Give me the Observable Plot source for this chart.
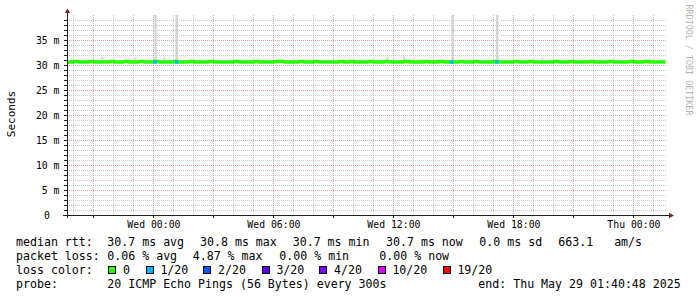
<!DOCTYPE html>
<html><head><meta charset="utf-8">
<script src="https://cdn.jsdelivr.net/npm/d3@7"></script>
<script src="https://cdn.jsdelivr.net/npm/@observablehq/plot@0.6"></script>
<style>
html,body{margin:0;padding:0;background:#fff;}
#wrap{position:relative;width:697px;height:297px;overflow:hidden;background:#fff;}
#chart{position:absolute;left:0;top:0;}
.lg{position:absolute;font-family:"DejaVu Sans Mono",monospace;font-size:11.6px;line-height:14px;white-space:pre;color:#000;}
.box{position:absolute;width:6px;height:6px;border:1px solid #000;}
</style></head>
<body><div id="wrap"><div id="chart"></div></div>
<script>
// ---------- data ----------
const xStart = new Date("2025-05-27T19:40:48Z");
const xEnd = new Date("2025-05-29T01:40:48Z");
const medianEnd = new Date("2025-05-29T01:35:00Z");

// median rtt (ms), one value per 15 minutes starting Tue 19:45
const medianMs = [
  30.7,30.8,30.7,30.7,30.8,30.7,30.7,30.7,30.8,30.7,30.7,30.8,
  30.7,30.7,30.8,30.7,30.7,30.8,30.7,30.7,30.7,30.8,30.7,30.7,
  30.8,30.7,30.7,30.7,30.8,30.7,30.7,30.7,30.7,30.8,30.7,30.7,
  30.7,30.8,30.7,30.7,30.7,30.8,30.8,30.7,30.7,30.7,30.8,30.7,
  30.7,30.8,30.7,30.7,30.7,30.7,30.8,30.7,30.8,30.7,30.7,30.7,
  30.8,30.7,30.7,30.8,30.7,30.7,30.7,30.8,30.7,30.7,30.7,30.8,
  30.7,30.7,30.8,30.7,30.7,30.7,30.8,30.7,30.7,30.8,30.7,30.7,
  30.7,30.8,30.7,30.7,30.7,30.8,30.7,30.7,30.8,30.7,30.7,30.7,
  30.7,30.8,30.7,30.7,30.8,30.7,30.7,30.7,30.8,30.7,30.7,30.7,
  30.8,30.7,30.7,30.7,30.8,30.7,30.7,30.8,30.7,30.7,30.7,30.7
];

// intervals with packet loss (1/20)
const lossStart = ["2025-05-28T00:00Z","2025-05-28T01:05Z","2025-05-28T14:50Z","2025-05-28T17:05Z"];
const lossEnd   = ["2025-05-28T00:10Z","2025-05-28T01:15Z","2025-05-28T15:00Z","2025-05-28T17:15Z"];
const lossMedianMs = [30.7, 30.7, 30.7, 30.7];
const lossLevel = [1, 1, 1, 1]; // index into lossColors

// smoke (ping spread) spikes
const smokeStart = ["2025-05-27T21:24Z","2025-05-27T23:03Z","2025-05-28T00:03Z","2025-05-28T00:30Z","2025-05-28T01:06Z","2025-05-28T11:39Z","2025-05-28T12:29Z","2025-05-28T14:54Z","2025-05-28T17:08Z","2025-05-28T19:24Z"];
const smokeEnd   = ["2025-05-27T21:30Z","2025-05-27T23:09Z","2025-05-28T00:10Z","2025-05-28T00:36Z","2025-05-28T01:14Z","2025-05-28T11:45Z","2025-05-28T12:35Z","2025-05-28T15:00Z","2025-05-28T17:15Z","2025-05-28T19:30Z"];
const smokeLoMs  = [30.6, 30.6, 30.6, 30.6, 30.6, 30.6, 30.6, 30.6, 30.6, 30.6];
const smokeHiMs  = [31.6, 31.4, 48.0, 31.6, 46.0, 31.7, 31.7, 47.0, 45.0, 31.5];

// loss colour legend
const lossLabels = ["0","1/20","2/20","3/20","4/20","10/20","19/20"];
const lossColors = ["#26ff00","#00b8ff","#0059ff","#5e00ff","#7e00ff","#dd00ff","#ff0000"];

// axis tick labels
const xLabelTimes = ["2025-05-28T00:00Z","2025-05-28T06:00Z","2025-05-28T12:00Z","2025-05-28T18:00Z","2025-05-29T00:00Z"];
const xLabelTexts = ["Wed 00:00","Wed 06:00","Wed 12:00","Wed 18:00","Thu 00:00"];
const yLabelMs = [5,10,15,20,25,30,35];
const yLabelTexts = ["5 m","10 m","15 m","20 m","25 m","30 m","35 m"];

// legend texts
const rttLabel = "median rtt:";
const rttStats = ["30.7 ms avg","30.8 ms max","30.7 ms min","30.7 ms now","0.0 ms sd","663.1   am/s"];
const lossLabel = "packet loss:";
const lossStats = ["0.06 % avg","4.87 % max","0.00 % min","0.00 % now"];
const colorLabel = "loss color:";
const probeLabel = "probe:";
const probeText = "20 ICMP Echo Pings (56 Bytes) every 300s";
const endText = "end: Thu May 29 01:40:48 2025";
const yTitle = "Seconds";
const watermark = "RRDTOOL / TOBI OETIKER";

// ---------- build tables ----------
const slotTimes = d3.utcMinute.every(15).range(new Date("2025-05-27T19:45:00Z"), new Date("2025-05-29T01:45:00Z"));
const medianPts = [{t: xStart, v: medianMs[0] / 1000}]
  .concat(medianMs.map((v, i) => ({t: slotTimes[i], v: v / 1000})))
  .concat([{t: medianEnd, v: medianMs[medianMs.length - 1] / 1000}]);
const loss = lossStart.map((s, i) => ({s: new Date(s), e: new Date(lossEnd[i]), v: lossMedianMs[i] / 1000, c: lossColors[lossLevel[i]]}));
const smoke = smokeStart.map((s, i) => ({s: new Date(s), e: new Date(smokeEnd[i]), lo: smokeLoMs[i] / 1000, hi: smokeHiMs[i] / 1000}));

const hours = d3.utcHour.range(xStart, xEnd);
const xMajor = hours.filter(d => d.getUTCHours() % 3 === 0);
const xMinor = hours.filter(d => d.getUTCHours() % 3 !== 0);
const yAll = d3.range(1, 40);
const yMinor = yAll.filter(v => v % 5 !== 0).map(v => v / 1000);
const yMajor = yAll.filter(v => v % 5 === 0).map(v => v / 1000);
const yTickAll = d3.range(0, 40).map(v => v / 1000);

const minorStyle = {stroke: "#8f8f8f", strokeOpacity: 0.5, strokeDasharray: "1,1", shapeRendering: "crispEdges"};
const majorStyle = {stroke: "#de4f4f", strokeOpacity: 0.55, strokeDasharray: "1,1", shapeRendering: "crispEdges"};

function axesMark(index, scales, values, dims) {
  const {width, height, marginLeft, marginRight, marginBottom, marginTop} = dims;
  const x0 = marginLeft, y0 = height - marginBottom, xr = width - marginRight;
  const g = d3.create("svg:g").attr("shape-rendering", "crispEdges");
  const axisC = "#1f1f1f", arrowC = "#801f1f";
  // tick marks
  for (const v of yTickAll) {
    const y = Math.round(scales.y(v)) + 0.5;
    g.append("line").attr("x1", x0 - 3.5).attr("x2", x0).attr("y1", y).attr("y2", y).attr("stroke", axisC);
  }
  for (const t of xMajor) {
    const x = Math.round(scales.x(t)) + 0.5;
    g.append("line").attr("x1", x).attr("x2", x).attr("y1", y0).attr("y2", y0 + 3).attr("stroke", axisC);
  }
  // axis lines
  g.append("line").attr("x1", x0 - 4).attr("x2", xr + 2).attr("y1", y0 + 0.5).attr("y2", y0 + 0.5).attr("stroke", axisC);
  g.append("line").attr("x1", x0 + 0.5).attr("x2", x0 + 0.5).attr("y1", y0 + 3).attr("y2", marginTop - 2).attr("stroke", axisC);
  // arrows
  const a = d3.create("svg:g");
  a.append("path").attr("d", `M${x0 - 2.2},${marginTop - 2}L${x0 + 3.2},${marginTop - 2}L${x0 + 0.5},${marginTop - 6.5}Z`).attr("fill", arrowC);
  a.append("path").attr("d", `M${xr + 2},${y0 - 2.2}L${xr + 2},${y0 + 3.2}L${xr + 7},${y0 + 0.5}Z`).attr("fill", arrowC);
  const outer = d3.create("svg:g");
  outer.node().appendChild(g.node());
  outer.node().appendChild(a.node());
  return outer.node();
}

const chart = Plot.plot({
  width: 697, height: 232,
  marginLeft: 67, marginRight: 30, marginTop: 15, marginBottom: 17,
  style: {background: "white", fontFamily: "'DejaVu Sans Mono', monospace", color: "#000", overflow: "visible"},
  x: {type: "utc", domain: [xStart, xEnd], axis: null},
  y: {domain: [0, 0.040], axis: null},
  marks: [
    Plot.ruleY(yMinor, minorStyle),
    Plot.ruleX(xMinor, minorStyle),
    Plot.ruleY(yMajor, majorStyle),
    Plot.ruleX(xMajor, majorStyle),
    Plot.rect(smoke, {x1: "s", x2: "e", y1: "lo", y2: "hi", fill: "#d4d4d4", clip: true}),
    Plot.lineY(medianPts, {x: "t", y: "v", curve: "step-after", stroke: lossColors[0], strokeWidth: 3.5, strokeLinecap: "butt"}),
    Plot.ruleY(loss, {x1: "s", x2: "e", y: "v", stroke: "c", strokeWidth: 3.5}),
    axesMark,
    Plot.text(xLabelTexts, {x: (d, i) => new Date(xLabelTimes[i]), text: d => d, frameAnchor: "bottom", dy: 9, lineAnchor: "middle", fontSize: 9.8, fill: "#000"}),
    Plot.text(yLabelTexts, {y: (d, i) => yLabelMs[i] / 1000, text: d => d, frameAnchor: "left", textAnchor: "end", dx: -8, lineAnchor: "middle", fontSize: 9.8, fill: "#000"}),
    Plot.text(["0"], {y: 0, text: d => d, frameAnchor: "left", textAnchor: "end", dx: -17.5, lineAnchor: "middle", fontSize: 9.8, fill: "#000"}),
    Plot.text([yTitle], {text: d => d, frameAnchor: "left", dx: -56, dy: -1.5, rotate: -90, textAnchor: "middle", lineAnchor: "middle", fontSize: 11, fill: "#000"}),
    Plot.text([watermark], {text: d => d, frameAnchor: "top-right", dx: 21, dy: -11, rotate: 90, textAnchor: "start", lineAnchor: "middle", fontSize: 8.4, fill: "#b3b3b3"})
  ]
});
document.getElementById("chart").appendChild(chart);

// ---------- legend ----------
const wrap = document.getElementById("wrap");
const rowTop = [234.5, 248.5, 262.5, 276.5];
function addText(txt, left, top) {
  const d = document.createElement("div");
  d.className = "lg"; d.textContent = txt;
  d.style.left = left + "px"; d.style.top = top + "px";
  wrap.appendChild(d);
}
const rttX = [107.3, 200, 292.7, 386, 479.3, 558.3];
const lossX = [107.3, 192.7, 279.3, 379.3];
const boxX = [108.3, 145.7, 203.3, 261.7, 319.3, 377.7, 442.7];
addText(rttLabel, 16, rowTop[0]);
rttStats.forEach((s, i) => addText(s, rttX[i], rowTop[0]));
addText(lossLabel, 16, rowTop[1]);
lossStats.forEach((s, i) => addText(s, lossX[i], rowTop[1]));
addText(colorLabel, 16, rowTop[2]);
lossLabels.forEach((s, i) => {
  const b = document.createElement("div");
  b.className = "box"; b.style.background = lossColors[i];
  b.style.left = boxX[i] + "px"; b.style.top = "266px";
  wrap.appendChild(b);
  addText(s, boxX[i] + 14.7, rowTop[2]);
});
addText(probeLabel, 16, rowTop[3]);
addText(probeText, 107.3, rowTop[3]);
addText(endText, 478.3, rowTop[3]);
</script></body></html>
